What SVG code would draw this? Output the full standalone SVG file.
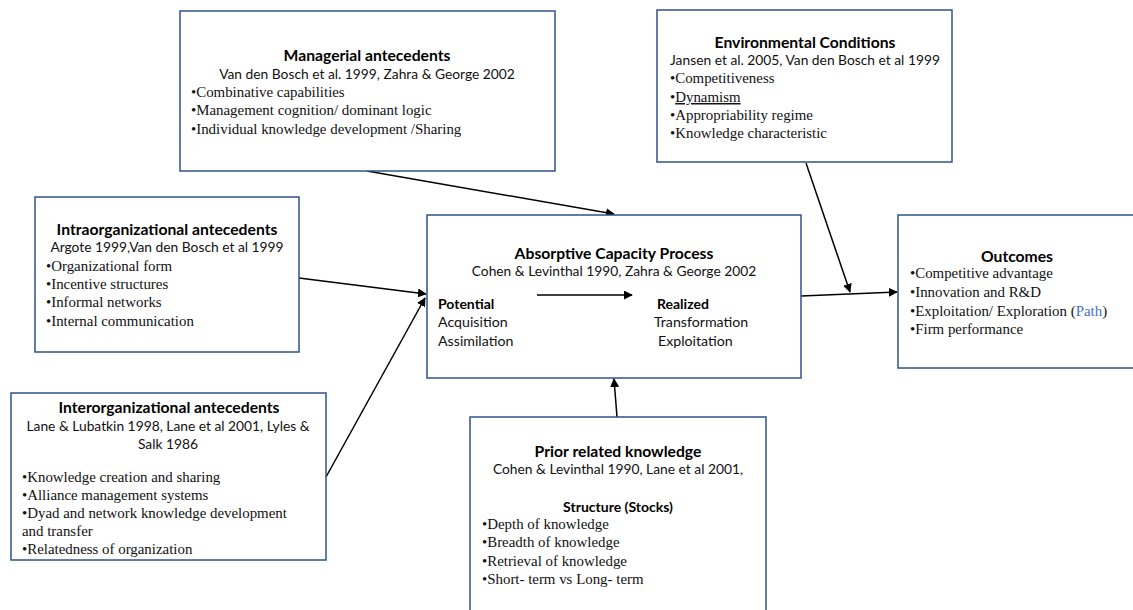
<svg xmlns="http://www.w3.org/2000/svg" width="1133" height="610" viewBox="0 0 1133 610">
  <style>
    .box { fill: #ffffff; stroke: #2f528f; stroke-width: 1.5; }
    .head { font-family: Lato, "Open Sans", "Liberation Sans", sans-serif; font-weight: bold; font-size: 15.7px; fill: #000; text-anchor: middle; }
    .cite { font-family: Lato, "Open Sans", "Liberation Sans", sans-serif; font-size: 13.8px; fill: #111; text-anchor: middle; }
    .sans { font-family: Lato, "Open Sans", "Liberation Sans", sans-serif; font-size: 14.2px; fill: #111; }
    .sansb { font-family: Lato, "Open Sans", "Liberation Sans", sans-serif; font-size: 14px; font-weight: bold; fill: #000; }
    .item { font-family: "Liberation Serif", "Times New Roman", serif; font-size: 14.9px; fill: #111; }
    .conn { stroke: #000; stroke-width: 1.5; fill: none; marker-end: url(#arrow); }
  </style>
  <defs>
    <marker id="arrow" viewBox="0 0 10 10" refX="9" refY="5" markerWidth="9" markerHeight="9" markerUnits="userSpaceOnUse" orient="auto">
      <path d="M0,0 L10,5 L0,10 z" fill="#000"/>
    </marker>
  </defs>

  <rect width="1133" height="610" fill="#ffffff"/>

  <!-- connectors -->
  <g id="connectors">
    <line class="conn" x1="367" y1="171" x2="614" y2="214"/>
    <line class="conn" x1="806" y1="163" x2="850" y2="292"/>
    <line class="conn" x1="801" y1="296" x2="897" y2="292"/>
    <line class="conn" x1="299" y1="278" x2="426" y2="294"/>
    <line class="conn" x1="326" y1="477" x2="425" y2="298"/>
    <line class="conn" x1="617" y1="417" x2="614" y2="379"/>
  </g>

  <g id="managerial">
    <rect class="box" x="180" y="11" width="375" height="160"/>
    <text class="head" x="367" y="61">Managerial antecedents</text>
    <text class="cite" x="367" y="79">Van den Bosch et al. 1999, Zahra &amp; George 2002</text>
    <text class="item" x="191" y="97">•Combinative capabilities</text>
    <text class="item" x="191" y="115">•Management cognition/ dominant logic</text>
    <text class="item" x="191" y="134">•Individual knowledge development /Sharing</text>
  </g>

  <g id="environmental">
    <rect class="box" x="657" y="10" width="295" height="152"/>
    <text class="head" x="805" y="48">Environmental Conditions</text>
    <text class="cite" x="805" y="65">Jansen et al. 2005, Van den Bosch et al 1999</text>
    <text class="item" x="670" y="83">•Competitiveness</text>
    <text class="item" x="670" y="102">•<tspan text-decoration="underline">Dynamism</tspan></text>
    <text class="item" x="670" y="120">•Appropriability regime</text>
    <text class="item" x="670" y="138">•Knowledge characteristic</text>
  </g>

  <g id="intraorganizational">
    <rect class="box" x="35" y="197" width="264" height="155"/>
    <text class="head" x="167" y="235">Intraorganizational antecedents</text>
    <text class="cite" x="167" y="252">Argote 1999,Van den Bosch et al 1999</text>
    <text class="item" x="46" y="271">•Organizational form</text>
    <text class="item" x="46" y="289">•Incentive structures</text>
    <text class="item" x="46" y="307">•Informal networks</text>
    <text class="item" x="46" y="326">•Internal communication</text>
  </g>

  <g id="absorptive">
    <rect class="box" x="427" y="215" width="374" height="163"/>
    <text class="head" x="614" y="259">Absorptive Capacity Process</text>
    <text class="cite" x="614" y="276">Cohen &amp; Levinthal 1990, Zahra &amp; George 2002</text>
    <line class="conn" x1="537" y1="295" x2="632" y2="295"/>
    <text class="sansb" x="438" y="309">Potential</text>
    <text class="sans" x="438" y="327">Acquisition</text>
    <text class="sans" x="438" y="346">Assimilation</text>
    <text class="sansb" x="657" y="309">Realized</text>
    <text class="sans" x="654" y="327">Transformation</text>
    <text class="sans" x="658" y="346">Exploitation</text>
  </g>

  <g id="outcomes">
    <rect class="box" x="898" y="215" width="240" height="153"/>
    <text class="head" x="1017" y="262">Outcomes</text>
    <text class="item" x="910" y="278">•Competitive advantage</text>
    <text class="item" x="910" y="297">•Innovation and R&amp;D</text>
    <text class="item" x="910" y="316">•Exploitation/ Exploration (<tspan fill="#4472c4">Path</tspan>)</text>
    <text class="item" x="910" y="334">•Firm performance</text>
  </g>

  <g id="interorganizational">
    <rect class="box" x="11" y="393" width="315" height="167"/>
    <text class="head" x="169" y="413">Interorganizational antecedents</text>
    <text class="cite" x="168" y="431">Lane &amp; Lubatkin 1998, Lane et al 2001, Lyles &amp;</text>
    <text class="cite" x="168" y="449">Salk 1986</text>
    <text class="item" x="22" y="482">•Knowledge creation and sharing</text>
    <text class="item" x="22" y="500">•Alliance management systems</text>
    <text class="item" x="22" y="518">•Dyad and network knowledge development</text>
    <text class="item" x="22" y="536">and transfer</text>
    <text class="item" x="22" y="554">•Relatedness of organization</text>
  </g>

  <g id="prior-knowledge">
    <rect class="box" x="470" y="417" width="296" height="200"/>
    <text class="head" x="618" y="457">Prior related knowledge</text>
    <text class="cite" x="618" y="474">Cohen &amp; Levinthal 1990, Lane et al 2001,</text>
    <text class="sansb" x="618" y="512" text-anchor="middle">Structure (Stocks)</text>
    <text class="item" x="482" y="529">•Depth of knowledge</text>
    <text class="item" x="482" y="547">•Breadth of knowledge</text>
    <text class="item" x="482" y="566">•Retrieval of knowledge</text>
    <text class="item" x="482" y="584">•Short- term vs Long- term</text>
  </g>
</svg>
